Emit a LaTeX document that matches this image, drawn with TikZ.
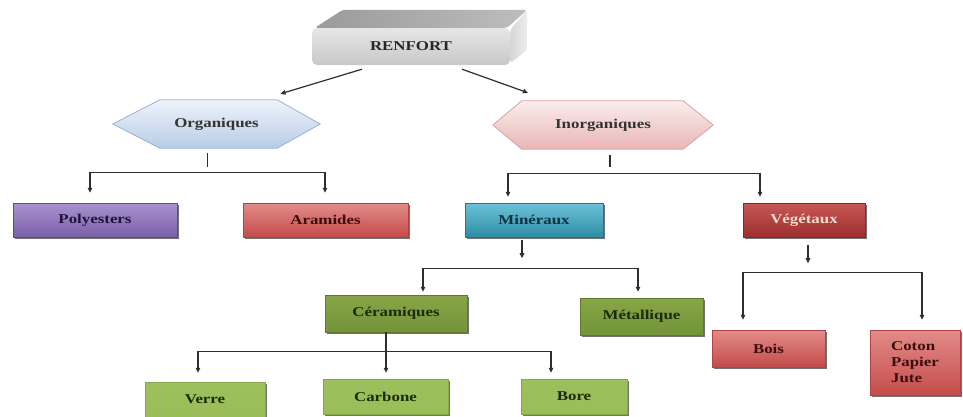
\documentclass[tikz,border=0pt]{standalone}
\usepackage{fontspec}
\setmainfont{Liberation Serif}[FakeStretch=1.25]
\usetikzlibrary{arrows.meta,shadows,backgrounds}
\definecolor{linec}{HTML}{2E2E2E}
\definecolor{pD}{HTML}{5E4A86}\definecolor{pT}{HTML}{A892CE}\definecolor{pM}{HTML}{967CC2}\definecolor{pB}{HTML}{7A5FA8}\definecolor{pX}{HTML}{1F1440}
\definecolor{rD}{HTML}{B04444}\definecolor{rT}{HTML}{E28C8A}\definecolor{rM}{HTML}{D46866}\definecolor{rB}{HTML}{C44C4A}\definecolor{rX}{HTML}{3A0E0E}
\definecolor{tD}{HTML}{23768A}\definecolor{tT}{HTML}{6CC3D8}\definecolor{tM}{HTML}{3EA5BF}\definecolor{tB}{HTML}{2E8CA6}\definecolor{tX}{HTML}{0B3340}
\definecolor{dD}{HTML}{8A2626}\definecolor{dT}{HTML}{C75754}\definecolor{dM}{HTML}{B63E3C}\definecolor{dB}{HTML}{9C2F2E}\definecolor{dX}{HTML}{F4DDD3}
\definecolor{gD}{HTML}{5E7A2A}\definecolor{gT}{HTML}{86A646}\definecolor{gM}{HTML}{9EBE5E}\definecolor{gB}{HTML}{74933A}\definecolor{gX}{HTML}{1B2A08}
\definecolor{lD}{HTML}{86A84C}\definecolor{lT}{HTML}{9CC05C}\definecolor{lM}{HTML}{C3DC8E}\definecolor{lB}{HTML}{9ABD58}
\definecolor{hX}{HTML}{333333}
\definecolor{oD}{HTML}{9AB2D2}\definecolor{oT}{HTML}{EEF3FA}\definecolor{oB}{HTML}{B8CCE6}
\definecolor{iD}{HTML}{D9A2A2}\definecolor{iT}{HTML}{FBEDED}\definecolor{iB}{HTML}{E8B6B5}
\definecolor{gfT}{HTML}{E6E6E6}\definecolor{gfB}{HTML}{C8C8C8}\definecolor{gtL}{HTML}{9A9A9A}\definecolor{gtR}{HTML}{BDBDBD}\definecolor{gsL}{HTML}{D6D6D6}\definecolor{gsR}{HTML}{EDEDED}
\colorlet{rtext}{black!85}
\tikzset{
  x=1pt,y=-1pt,
  arr/.style={draw=linec,line width=1.2pt,-{Triangle[length=5pt,width=4.5pt]}},
  plain/.style={draw=linec,line width=1.2pt},
  box/.style={rectangle,inner sep=2pt,font=\bfseries\fontsize{13.5}{16}\selectfont,
    drop shadow={shadow xshift=2.2pt,shadow yshift=-2.2pt,fill=black,opacity=0.55}},
  purplebox/.style={box,draw=pD,top color=pT,middle color=pM,bottom color=pB,text=pX},
  redbox/.style={box,draw=rD,top color=rT,middle color=rM,bottom color=rB,text=rX},
  tealbox/.style={box,draw=tD,top color=tT,middle color=tM,bottom color=tB,text=tX},
  darkredbox/.style={box,draw=dD,top color=dT,middle color=dM,bottom color=dB,text=dX},
  greenbox/.style={box,draw=gD,top color=gT,middle color=gM,bottom color=gB,text=gX},
  lgreenbox/.style={box,draw=lD,top color=lT,middle color=lM,bottom color=lB,text=gX},
  hextext/.style={rectangle,inner sep=0pt,font=\bfseries\fontsize{13.5}{15}\selectfont,text=hX},
  hexorg/.style={draw=oD,line width=0.8pt,top color=oT,bottom color=oB},
  hexinorg/.style={draw=iD,line width=0.8pt,top color=iT,bottom color=iB},
  frontface/.style={rectangle,rounded corners=5pt,top color=gfT,bottom color=gfB,
    font=\bfseries\fontsize{13.5}{15}\selectfont,text=rtext},
}
\begin{document}
\begin{tikzpicture}
\useasboundingbox (0,0) rectangle (963,416);

% RENFORT 3D box
\node[frontface,minimum width=198pt,minimum height=37pt] (renf) at (411,46.5) {RENFORT};
\begin{scope}[on background layer]
\path[left color=gtL,right color=gtR,rounded corners=3pt]
  ([xshift=3pt]renf.north west) -- ([xshift=31pt,yshift=18pt]renf.north west)
  -- ([xshift=17pt,yshift=18pt]renf.north east) -- ([xshift=-3pt]renf.north east) -- cycle;
\path[left color=gsL,right color=gsR,rounded corners=3pt]
  ([yshift=-2pt]renf.north east) -- ([xshift=17pt,yshift=18pt]renf.north east)
  -- ([xshift=17pt,yshift=15pt]renf.south east) -- ([yshift=2pt]renf.south east) -- cycle;
\end{scope}

% hexagons
\node[hextext,minimum width=207pt,minimum height=48pt] (org) at (216.5,124) {Organiques};
\node[hextext,minimum width=220pt,minimum height=48pt] (inorg) at (603,125) {Inorganiques};
\begin{scope}[on background layer]
\path[hexorg] (org.west) -- ([xshift=47pt]org.north west) -- ([xshift=-43pt]org.north east)
  -- (org.east) -- ([xshift=-43pt]org.south east) -- ([xshift=47pt]org.south west) -- cycle;
\path[hexinorg] (inorg.west) -- ([xshift=29pt]inorg.north west) -- ([xshift=-30pt]inorg.north east)
  -- (inorg.east) -- ([xshift=-30pt]inorg.south east) -- ([xshift=29pt]inorg.south west) -- cycle;
\end{scope}

% level boxes
\node[purplebox,minimum width=164pt,minimum height=34pt] (poly) at (95,220) {Polyesters};
\node[redbox,minimum width=165pt,minimum height=34pt] (ara) at (325.5,220) {Aramides};
\node[tealbox,minimum width=138pt,minimum height=34pt] (min) at (534,220) {Minéraux};
\node[darkredbox,minimum width=122pt,minimum height=34pt] (veg) at (804,220) {Végétaux};
\node[greenbox,minimum width=142pt,minimum height=37pt] (cer) at (396,313.5) {Céramiques};
\node[greenbox,minimum width=123pt,minimum height=37pt] (met) at (641.5,316.5) {Métallique};
\node[redbox,minimum width=113pt,minimum height=37pt] (bois) at (768.5,348.5) {Bois};
\node[redbox,minimum width=90pt,minimum height=65pt,align=left] (coton) at (915,362.5) {Coton\\Papier\\Jute};
\node[lgreenbox,minimum width=120pt,minimum height=35pt] (verre) at (205,399.5) {Verre};
\node[lgreenbox,minimum width=125pt,minimum height=35pt] (carb) at (385.5,396.5) {Carbone};
\node[lgreenbox,minimum width=106pt,minimum height=35pt] (bore) at (574,396.5) {Bore};

% connectors from RENFORT
\draw[arr] ([xshift=-49pt,yshift=-4pt]renf.south) -- ([xshift=64pt,yshift=6pt]org.north);
\draw[arr] ([xshift=51pt,yshift=-4pt]renf.south) -- ([xshift=-75pt,yshift=8pt]inorg.north);

% Organiques
\draw[plain] ([xshift=-9pt,yshift=-5pt]org.south) -- ++(0,14) coordinate (os);
\coordinate (ob) at ([yshift=-5pt]os);
\draw[arr] (ob) -| ([xshift=-5pt,yshift=10pt]poly.north);
\draw[arr] (ob) -| ([xshift=-0.5pt,yshift=10pt]ara.north);

% Inorganiques
\draw[plain] ([xshift=7pt,yshift=-6pt]inorg.south) -- ++(0,12) coordinate (is);
\coordinate (ib) at ([yshift=-6pt]is);
\draw[arr] (ib) -| ([xshift=-26pt,yshift=6pt]min.north);
\draw[arr] (ib) -| ([xshift=-44pt,yshift=6pt]veg.north);

% Mineraux
\draw[arr] ([xshift=-12pt,yshift=-3pt]min.south) -- ++(0,18);
\coordinate (mb) at ([xshift=-12pt,yshift=-31pt]min.south);
\draw[arr] (mb) -| ([xshift=27pt,yshift=3pt]cer.north);
\draw[arr] (mb) -| ([xshift=-3.5pt,yshift=6pt]met.north);

% Vegetaux
\draw[arr] ([xshift=4pt,yshift=-8pt]veg.south) -- ++(0,18);
\coordinate (vb) at ([xshift=4pt,yshift=-35pt]veg.south);
\draw[arr] (vb) -| ([xshift=-25.5pt,yshift=10pt]bois.north);
\draw[arr] (vb) -| ([xshift=7pt,yshift=10pt]coton.north);

% Ceramiques
\draw[arr] ([xshift=-10pt]cer.south) -- ([xshift=0.5pt,yshift=6pt]carb.north);
\coordinate (cb) at ([xshift=-10pt,yshift=-19pt]cer.south);
\draw[arr] (cb) -| ([xshift=-7pt,yshift=9pt]verre.north);
\draw[arr] (cb) -| ([xshift=-23pt,yshift=6pt]bore.north);
\end{tikzpicture}
\end{document}
